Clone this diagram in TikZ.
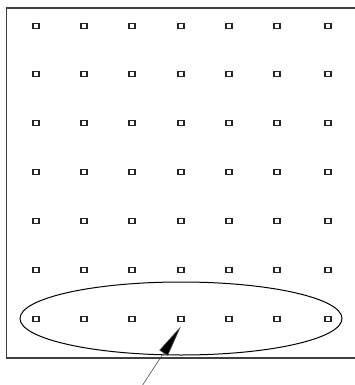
\documentclass[tikz,border=0pt]{standalone}
\usetikzlibrary{arrows.meta,shapes.geometric}
\begin{document}
\begin{tikzpicture}[x=1pt,y=-1pt,
  dot/.style={draw=black!85,line width=1.4pt,minimum width=6pt,minimum height=5pt,inner sep=0pt,fill=white},
  frame/.style={line width=1.8pt,draw=black!75},
  ring/.style={line width=1pt},
  pointer/.style={line width=0.6pt,draw=black!70,-{Triangle[length=32pt,width=10pt,fill=black]}}]
\useasboundingbox[fill=white] (0,0) rectangle (354,385);
\draw[frame] (356,8) -- (6.5,8) -- (6.5,358) -- (356,358);
\foreach \c/\x in {1/36,2/84,3/132,4/181,5/229,6/277,7/328}{
  \foreach \r/\y in {1/26,2/74,3/123,4/172,5/221,6/270,7/319}{
    \node[dot] (d\c\r) at (\x,\y) {};
  }
}
\node[ring,draw,ellipse,minimum width=322pt,minimum height=73pt,inner sep=0pt] (ring) at (181,318.5) {};
\coordinate (tail) at (142,386);
\draw[pointer] (tail) -- ([yshift=-4pt]d47.south);
\end{tikzpicture}
\end{document}
